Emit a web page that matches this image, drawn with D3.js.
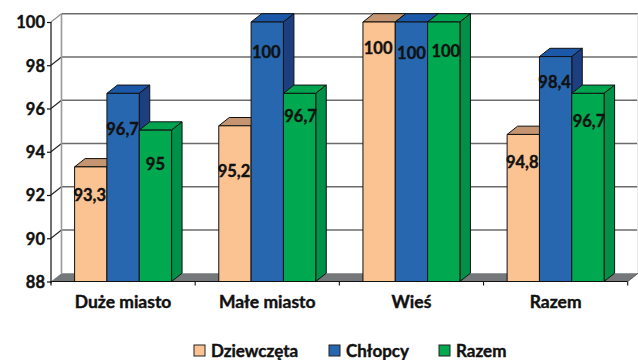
<!DOCTYPE html>
<html><head><meta charset="utf-8">
<script src="https://cdn.jsdelivr.net/npm/d3@7"></script>
<style>html,body{margin:0;padding:0;background:#fff}svg{display:block}text{font-family:Lato,"Open Sans",sans-serif;font-weight:700;fill:#111;stroke:#111;stroke-width:.4px}</style>
</head><body><svg id="c" width="638" height="360"></svg>
<script>
const categories = ["Duże miasto","Małe miasto","Wieś","Razem"];
const seriesNames = ["Dziewczęta","Chłopcy","Razem"];
const dziewczeta = [93.3,95.2,100,94.8];
const chlopcy = [96.7,100,100,98.4];
const razem = [95,96.7,100,96.7];
const labelsDziewczeta = ["93,3","95,2","100","94,8"];
const labelsChlopcy = ["96,7","100","100","98,4"];
const labelsRazem = ["95","96,7","100","96,7"];
const yTicks = [88,90,92,94,96,98,100];

const seriesValues=[dziewczeta,chlopcy,razem];
const seriesLabels=[labelsDziewczeta,labelsChlopcy,labelsRazem];
// label anchor offsets (dx, centre-y below bar top), hand-placed in the original
const labelDx=[[-1,-1,-1,-1],[-0.5,-1,0,-1],[0,1,2,1]];
const labelDy=[[28,45,26,28],[36,30,31,26],[34,23,29,28]];
const faces=[{f:"#FBC392",t:"#C49570",s:"#C49570"},{f:"#2767B0",t:"#1C58A8",s:"#1D3F7F"},{f:"#00A84F",t:"#00A44E",s:"#009048"}];
const DX=10.5,DY=8.3,left=51,right=627.7;
const y=d3.scaleLinear().domain([88,100]).range([281.5,22]);
const x0=d3.scaleBand().domain(categories).range([left,right]);
const x1=d3.scaleBand().domain(d3.range(3)).range([0,x0.bandwidth()]).paddingInner(0).paddingOuter(0.73);
const svg=d3.select("#c");
const squeeze=(sel,k)=>sel.each(function(){this.setAttribute("textLength",this.getComputedTextLength()*k);this.setAttribute("lengthAdjust","spacingAndGlyphs");});

// back wall grid
svg.append("g").selectAll("line").data(yTicks.slice(1)).join("line")
 .attr("x1",left+DX).attr("x2",right+DX).attr("y1",d=>y(d)-DY).attr("y2",d=>y(d)-DY)
 .attr("stroke","#6b6b6b").attr("stroke-width",1.4);
svg.append("g").selectAll("line").data(yTicks.slice(1)).join("line")
 .attr("x1",left).attr("x2",left+DX).attr("y1",d=>y(d)).attr("y2",d=>y(d)-DY)
 .attr("stroke",d=>d===100?"#8a8a8a":"#222").attr("stroke-width",1.1);
svg.append("line").attr("x1",left+DX).attr("x2",left+DX).attr("y1",y(100)-DY).attr("y2",y(88)-DY)
 .attr("stroke","#9a9a9a").attr("stroke-width",1.6);
svg.append("line").attr("x1",right+DX-.5).attr("x2",right+DX-.5).attr("y1",y(100)-DY).attr("y2",y(88)-DY)
 .attr("stroke","#e4e4e4").attr("stroke-width",1);
// floor
svg.append("polygon").attr("fill","#75787a")
 .attr("points",[[left,y(88)],[left+DX,y(88)-DY],[right+DX,y(88)-DY],[right,y(88)]].join(" "));

// bars
const poly=(g,pts,fill)=>g.append("polygon").attr("points",pts.join(" ")).attr("fill",fill)
 .attr("stroke","#111").attr("stroke-width",1).attr("stroke-linejoin","round");
categories.forEach((c,i)=>{
 const g=svg.append("g");
 seriesValues.forEach((vals,s)=>{
  const a=x0(c)+x1(s),b=a+x1.bandwidth(),t=y(vals[i]),f=y(88),col=faces[s];
  poly(g,[[a,t],[a+DX,t-DY],[b+DX,t-DY],[b,t]],col.t);
  poly(g,[[b,t],[b+DX,t-DY],[b+DX,f-DY],[b,f]],col.s);
  poly(g,[[a,t],[b,t],[b,f],[a,f]],col.f);
 });
});

// axes
const yAxis=svg.append("g").attr("transform",`translate(${left},0)`)
 .call(d3.axisLeft(y).tickValues(yTicks).tickSize(4).tickPadding(2).tickFormat(d3.format("d")));
yAxis.selectAll("text").style("font-size","16.5px").attr("dy","0.35em");
yAxis.selectAll("line,path").attr("stroke","#111").attr("stroke-width",1.2);
yAxis.select("path").attr("d",`M0,${y(100)}V${y(88)+2}`);
const xAxis=svg.append("g").attr("transform",`translate(0,${y(88)})`)
 .call(d3.axisBottom(x0).tickSize(0).tickPadding(15));
xAxis.selectAll("text").style("font-size","16.5px").call(squeeze,1.06);
xAxis.select("path").attr("d",`M${left},0H${right}`).attr("stroke","#111").attr("stroke-width",1.2);
xAxis.selectAll("line.b").data(categories.map(c=>x0(c)).concat([right])).join("line").attr("class","b")
 .attr("x1",d=>d).attr("x2",d=>d).attr("y1",0).attr("y2",4).attr("stroke","#111").attr("stroke-width",1.1);
svg.append("line").attr("x1",right).attr("x2",right+DX).attr("y1",y(88)).attr("y2",y(88)-DY).attr("stroke","#555");

// data labels
seriesValues.forEach((vals,s)=>{
 svg.append("g").selectAll("text").data(vals).join("text")
  .attr("x",(d,i)=>x0(categories[i])+x1(s)+x1.bandwidth()/2+labelDx[s][i])
  .attr("y",(d,i)=>y(d)+labelDy[s][i]).attr("dy","0.35em").attr("text-anchor","middle")
  .style("font-size","16.5px").text((d,i)=>seriesLabels[s][i]);
});

// legend
const legendX=d3.scaleOrdinal().domain(seriesNames.map((d,i)=>i)).range([194,329,439]);
const lg=svg.append("g").selectAll("g").data(seriesNames).join("g")
 .attr("transform",(d,i)=>`translate(${legendX(i)},345)`);
lg.append("rect").attr("width",11).attr("height",11).attr("fill",(d,i)=>faces[i].f).attr("stroke","#222").attr("stroke-width",1);
lg.append("text").attr("x",17).attr("y",12).style("font-size","16.5px").text(d=>d).call(squeeze,1.03);
</script></body></html>
